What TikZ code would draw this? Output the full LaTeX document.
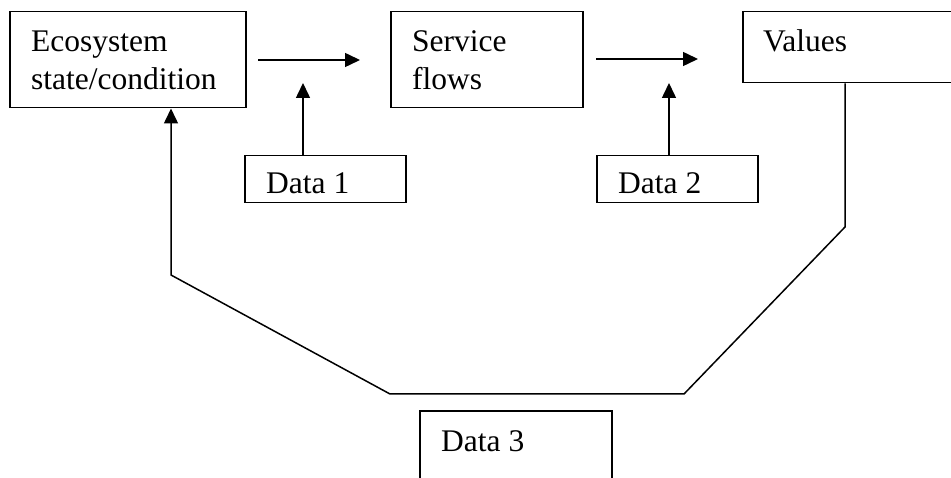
\documentclass[tikz,border=0pt]{standalone}
\usepackage{fontspec}
\setmainfont{Liberation Serif}
\usetikzlibrary{arrows.meta}

\tikzset{
  boxshape/.style={draw=black, line width=1.5pt, rectangle, inner sep=0pt, anchor=north west},
  label text/.style={anchor=base west, inner sep=0pt, font=\fontsize{31.5}{38}\selectfont},
  link/.style={draw=black, line width=1.5pt},
  flow/.style={link, -{Triangle[length=15pt, width=14pt]}},
}

\begin{document}
\begin{tikzpicture}[x=1pt, y=-1pt]
  \useasboundingbox (0,0) rectangle (951,478);

  % main chain of boxes
  \node[boxshape, minimum width=236pt, minimum height=96pt] (eco) at (9,11) {};
  \node[boxshape, minimum width=192pt, minimum height=96pt] (svc) at (390,11) {};
  \node[boxshape, minimum width=230pt, minimum height=71pt] (val) at (742,11) {};

  \node[label text] (ecoA) at (31,52) {Ecosystem};
  \node[label text] (ecoB) at (31,90) {state/condition};
  \node[label text] (svcA) at (412,52) {Service};
  \node[label text] (svcB) at (412,90) {flows};
  \node[label text] (valA) at (763,52) {Values};

  % data boxes
  \node[boxshape, minimum width=161pt, minimum height=47pt] (d1) at (244,155) {};
  \node[boxshape, minimum width=161pt, minimum height=47pt] (d2) at (596,155) {};
  \node[boxshape, minimum width=192pt, minimum height=90pt] (d3) at (419,410) {};

  \begin{scope}
    \clip (d1.north west) rectangle ([yshift=9pt]d1.south east);
    \node[label text] (d1t) at (266,194) {Data 1};
  \end{scope}
  \begin{scope}
    \clip (d2.north west) rectangle ([yshift=9pt]d2.south east);
    \node[label text] (d2t) at (618,194) {Data 2};
  \end{scope}
  \node[label text] (d3t) at (441,451) {Data 3};

  % horizontal arrows between the boxes
  \coordinate (a1s) at (258,60);
  \coordinate (a1e) at (360,60);
  \coordinate (a2s) at (596,59);
  \coordinate (a2e) at (698,59);
  \draw[flow] (a1s) -- (a1e);
  \draw[flow] (a2s) -- (a2e);

  % data inputs pointing up
  \coordinate (u1) at (303,83);
  \coordinate (u2) at (669,83);
  \draw[flow] (u1 |- d1.north) -- (u1);
  \draw[flow] (u2 |- d2.north) -- (u2);

  % feedback loop from values back to the ecosystem
  \coordinate (fbR) at (845,227);
  \coordinate (fbBR) at (684,394);
  \coordinate (fbBL) at (390,394);
  \coordinate (fbL) at (171,275);
  \draw[flow] (fbR |- val.south) -- (fbR) -- (fbBR) -- (fbBL) -- (fbL) -- (fbL |- eco.south);
\end{tikzpicture}
\end{document}
